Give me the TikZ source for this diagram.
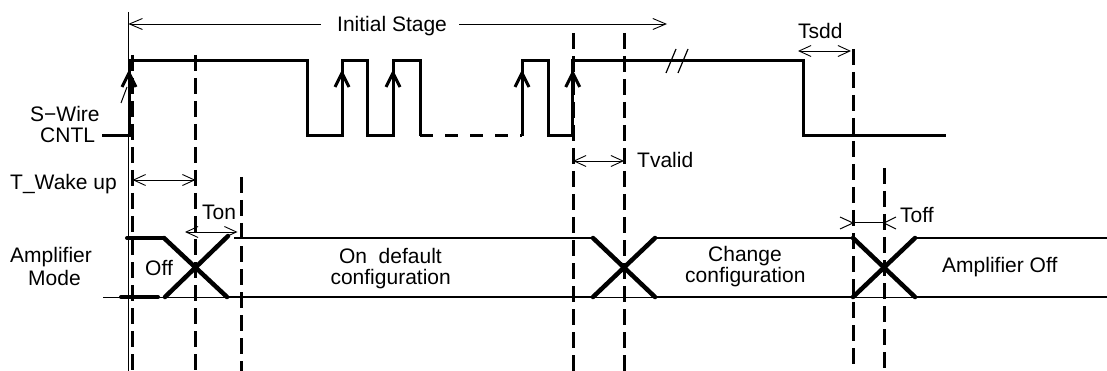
\documentclass[tikz,border=0pt]{standalone}
\usepackage{fontspec}
\setmainfont{Liberation Sans}
\usetikzlibrary{arrows.meta}
\begin{document}
\begin{tikzpicture}[x=1pt,y=-1pt,
  sig/.style={line width=3pt, line join=miter},
  vdash/.style={line width=3pt, dash pattern=on 16pt off 7pt},
  thinl/.style={line width=1pt},
  dim/.style={line width=0.9pt, {Straight Barb[length=12pt,width=11pt]}-{Straight Barb[length=12pt,width=11pt]}},
  dimL/.style={line width=0.9pt, {Straight Barb[length=13pt,width=11pt]}-},
  dimR/.style={line width=0.9pt, -{Straight Barb[length=13pt,width=11pt]}},
  bus/.style={line width=2.6pt},
  xing/.style={line width=4.5pt, line cap=round},
  busend/.style={line width=4pt, line cap=round},
  uparrow/.style={line width=3pt, line join=miter},
  lbl/.style={inner sep=0pt, font=\fontsize{21}{25}\selectfont}
]
\useasboundingbox (0,0) rectangle (1107,371);

% reference verticals
\coordinate (v0) at (128.3,12);
\draw[thinl] (v0) -- (128.3,371);
\foreach \x/\y [count=\i] in {132.5/55, 195.5/55, 241.5/177, 573/33, 624/33, 853/49, 884/168}
  \draw[vdash] (\x,\y) coordinate (d\i) -- (\x,371);

% S-Wire CNTL signal
\draw[sig] (102,136) -- (129,136) -- (129,61) -- (307,61) -- (307,136) -- (342,136) -- (342,61)
  -- (367,61) -- (367,136) -- (393,136) -- (393,61) -- (420,61) -- (420,136);
\draw[sig, dash pattern=on 12.5pt off 12.5pt] (420,136) -- (522,136);
\draw[sig] (522,136) -- (522,61) -- (548,61) -- (548,136) -- (572.7,136) -- (572.7,61)
  -- (803,61) -- (803,136) -- (946,136);
\foreach \x in {129,342,393,522,572.7}
  \draw[uparrow] (\x-7,87) -- (\x,73) -- (\x+7,87);
\draw[thinl] (121,103) -- (127,87);
\draw[line width=1.2pt] (666,73) -- (676,49);
\draw[line width=1.2pt] (678,73) -- (688,49);

% Amplifier mode bus
\draw[thinl] (103,297) -- (1107,297);
\draw[busend] (127,238) -- (164,238);
\draw[busend] (121,297) -- (158,297);
\draw[xing] (164,238) -- (227,297);
\draw[xing] (165,297) -- (228,236);
\draw[bus] (234,238) -- (593,238);
\draw[bus] (227,297) -- (593,297);
\draw[xing] (593,238) -- (655,297);
\draw[xing] (593,297) -- (655,238);
\draw[bus] (655,238) -- (853,238);
\draw[bus] (655,297) -- (853,297);
\draw[xing] (853,238) -- (915,297);
\draw[xing] (853,297) -- (915,238);
\draw[bus] (915,238) -- (1107,238);
\draw[bus] (915,297) -- (1107,297);

% dimension arrows
\draw[dimL] (128.3,24) -- (321,24);
\draw[dimR] (459,24) -- (667,24);
\draw[dim] (132.5,180) -- (195.5,180);
\draw[dim] (185,232) -- (237.5,232);
\draw[dim] (573,161) -- (624,161);
\draw[dim] (798,51) -- (851,51);
\draw[thinl] (840,217) -- (853,223) -- (840,229);
\draw[thinl] (853,223) -- (884,223);
\draw[thinl] (896,217) -- (884,223) -- (896,229);

% labels
\node[lbl, anchor=base west] (init) at (337,31.5) {Initial Stage};
\node[lbl, anchor=base west] (tsdd) at (798,39) {Tsdd};
\node[lbl, anchor=base west] (sw) at (30,122) {S−Wire};
\node[lbl, anchor=base west] (cntl) at (40,143) {CNTL};
\node[lbl, anchor=base west] (twake) at (10,190) {T\_Wake up};
\node[lbl, anchor=base west] (tvalid) at (637,168) {Tvalid};
\node[lbl, anchor=base west] (ton) at (202,219) {Ton};
\node[lbl, anchor=base west] (toff) at (900,223) {Toff};
\node[lbl, anchor=base west] (amp) at (10,262) {Amplifier};
\node[lbl, anchor=base west] (mode) at (28,285) {Mode};
\node[lbl, anchor=base west] (off) at (145,275) {Off};
\node[lbl, anchor=base east] (ondef) at (442,263) {On\ \ default};
\node[lbl, anchor=base east] (oncfg) at (451,284) {configuration};
\node[lbl, anchor=base west] (chg) at (708,261) {Change};
\node[lbl, anchor=base west] (chgcfg) at (685,282) {configuration};
\node[lbl, anchor=base west] (ampoff) at (942,272) {Amplifier Off};
\end{tikzpicture}
\end{document}
